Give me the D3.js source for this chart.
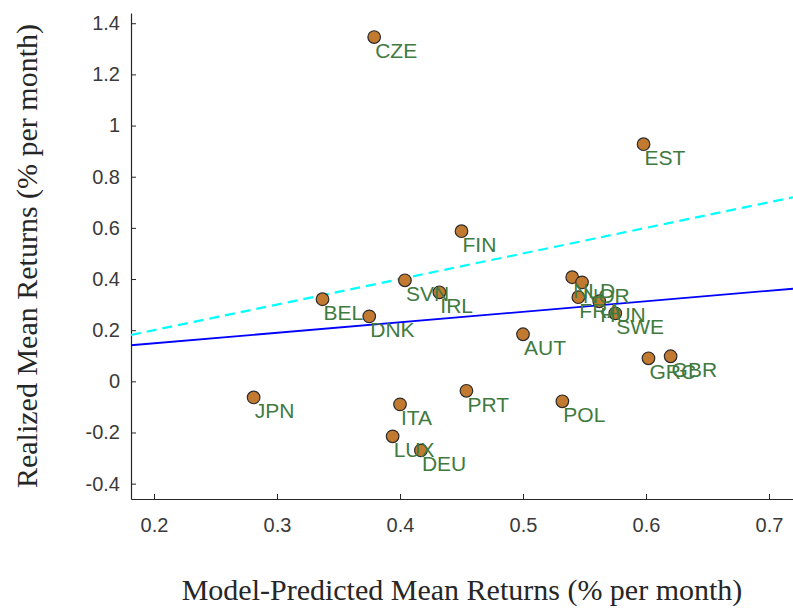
<!DOCTYPE html>
<html>
<head>
<meta charset="utf-8">
<script src="https://cdn.jsdelivr.net/npm/d3@7"></script>
<style>
  body { margin: 0; background: #fff; }
  svg { display: block; }
</style>
</head>
<body>
<div id="chart"></div>
<script>
// Country codes and their model-predicted vs realized mean returns (% per month)
const countries = ["CZE", "EST", "FIN", "SVN", "IRL", "BEL", "DNK", "NLD", "NOR", "FRA", "HUN",
  "SWE", "AUT", "GRC", "GBR", "JPN", "ITA", "PRT", "POL", "LUX", "DEU"];
const predicted = [0.379, 0.598, 0.450, 0.404, 0.432, 0.337, 0.375, 0.540, 0.548, 0.545, 0.562,
  0.575, 0.500, 0.602, 0.620, 0.281, 0.400, 0.454, 0.532, 0.394, 0.417];
const realized = [1.346, 0.927, 0.587, 0.395, 0.348, 0.321, 0.254, 0.407, 0.387, 0.329, 0.313,
  0.266, 0.184, 0.090, 0.098, -0.063, -0.090, -0.037, -0.078, -0.215, -0.270];

// fitted line and 45-degree line, as endpoints [x, y]
const fitLine = [[0.1813, 0.141], [0.7195, 0.362]];
const diagLine = [[0.1813, 0.1813], [0.7195, 0.7195]];

const xTicks = [0.2, 0.3, 0.4, 0.5, 0.6, 0.7];
const yTicks = [-0.4, -0.2, 0, 0.2, 0.4, 0.6, 0.8, 1, 1.2, 1.4];

const width = 793;
const height = 608;
const axisColor = "#262626";

const data = countries.map((c, i) => ({ name: c, x: predicted[i], y: realized[i] }));

const svg = d3
  .select("#chart")
  .append("svg")
  .attr("width", width)
  .attr("height", height);

const x = d3.scaleLinear().domain([0.1813, 0.7195]).range([131, 793]);
const y = d3.scaleLinear().domain([-0.46, 1.44]).range([499, 13]);

// plain hyphen for negatives, like the original figure
const fmt = (d) => d3.format("~g")(d).replace("\u2212", "-");

// x axis, ticks pointing inside
const gx = svg
  .append("g")
  .attr("transform", "translate(0," + y.range()[0] + ")")
  .call(d3.axisBottom(x).tickValues(xTicks).tickSizeInner(-5).tickSizeOuter(0).tickPadding(19)
    .tickFormat(fmt));

// y axis
const gy = svg
  .append("g")
  .attr("transform", "translate(" + x.range()[0] + ",0)")
  .call(d3.axisLeft(y).tickValues(yTicks).tickSizeInner(-5).tickSizeOuter(0).tickPadding(11)
    .tickFormat(fmt));

[gx, gy].forEach(function (g) {
  g.select(".domain").attr("stroke", axisColor).attr("stroke-width", 1.2);
  g.selectAll(".tick line").attr("stroke", axisColor).attr("stroke-width", 1);
  g.selectAll(".tick text")
    .attr("fill", "#3a3a3a")
    .style("font-family", "'Liberation Sans', Arial, sans-serif")
    .style("font-size", "20px");
});

const line = d3.line().x((d) => x(d[0])).y((d) => y(d[1]));

svg.append("path")
  .attr("d", line(diagLine))
  .attr("fill", "none")
  .attr("stroke", "#00ffff")
  .attr("stroke-width", 2.2)
  .attr("stroke-dasharray", "10,6");

svg.append("path")
  .attr("d", line(fitLine))
  .attr("fill", "none")
  .attr("stroke", "#0000ff")
  .attr("stroke-width", 1.8);

// the points
svg.selectAll(".pt")
  .data(data)
  .join("circle")
  .attr("class", "pt")
  .attr("cx", (d) => x(d.x))
  .attr("cy", (d) => y(d.y))
  .attr("r", 6.3)
  .attr("fill", "#c27a30")
  .attr("stroke", "#2b2b2b")
  .attr("stroke-width", 1.2);

// country labels go on top of the markers
svg.selectAll(".lbl")
  .data(data)
  .join("text")
  .attr("class", "lbl")
  .attr("x", (d) => x(d.x) + 1)
  .attr("y", (d) => y(d.y) + 21)
  .attr("fill", "#3f7a3f")
  .style("font-family", "'Liberation Sans', Arial, sans-serif")
  .style("font-size", "21px")
  .text((d) => d.name);

// axis titles
svg.append("text")
  .attr("x", (x.range()[0] + x.range()[1]) / 2)
  .attr("y", 600)
  .attr("text-anchor", "middle")
  .attr("fill", axisColor)
  .style("font-family", "'Liberation Serif', 'Times New Roman', serif")
  .style("font-size", "30px")
  .text("Model-Predicted Mean Returns (% per month)");

svg.append("text")
  .attr("transform", "translate(37," + (y.range()[0] + y.range()[1]) / 2 + ") rotate(-90)")
  .attr("text-anchor", "middle")
  .attr("fill", axisColor)
  .style("font-family", "'Liberation Serif', 'Times New Roman', serif")
  .style("font-size", "30px")
  .text("Realized Mean Returns (% per month)");
</script>
</body>
</html>
